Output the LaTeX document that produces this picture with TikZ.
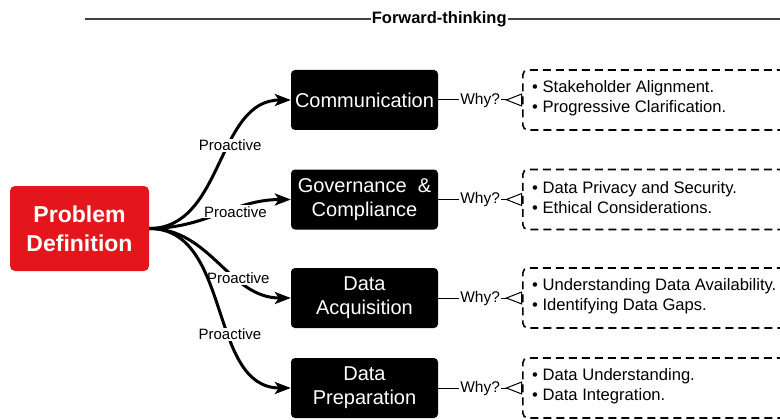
\documentclass[tikz,border=0pt]{standalone}
\usepackage{fontspec}
\setmainfont{Liberation Sans}
\usetikzlibrary{arrows.meta}
\definecolor{pdred}{HTML}{E5161B}
\definecolor{linegray}{HTML}{40404A}
\begin{document}
\begin{tikzpicture}[x=1pt,y=-1pt,
  rootbox/.style={fill=pdred, text=white, rounded corners=5pt, minimum width=139pt, minimum height=85pt, inner sep=0pt, font=\fontsize{23}{29}\selectfont\bfseries, align=center},
  stagebox/.style={fill=black, text=white, rounded corners=4pt, minimum width=147pt, minimum height=60pt, inner sep=0pt, font=\fontsize{20}{24}\selectfont, align=center},
  reasonbox/.style={draw, dash pattern=on 8pt off 5pt, line width=1.6pt, rounded corners=5pt, minimum width=280pt, minimum height=60pt, anchor=west, inner sep=0pt},
  reasontext/.style={font=\fontsize{16.6}{20}\selectfont, align=left, anchor=west, inner sep=0pt},
  flow/.style={line width=3pt, -{Stealth[length=16pt,width=12pt,inset=4pt]}},
  flowlabel/.style={fill=white, inner sep=1pt, font=\fontsize{15}{18}\selectfont},
  whyline/.style={line width=1pt, -{Triangle[open,reversed,length=17pt,width=13pt]}},
  whylabel/.style={fill=white, inner sep=1pt, font=\fontsize{15.5}{18}\selectfont},
  headline/.style={line width=2pt, draw=linegray}
]
\clip (0,0) rectangle (780,420);
\fill[white] (0,0) rectangle (780,420);

% header
\coordinate (tl) at (85,19);
\coordinate (tr) at (781,19);
\draw[headline] (tl) -- node[pos=0.509, fill=white, inner sep=1pt, text=black, font=\fontsize{16.5}{20}\selectfont\bfseries]{Forward-thinking} (tr);

% root
\node[rootbox] (root) at (79.5,228.5) {Problem\\Definition};

% stages
\node[stagebox] (comm) at (364.5,100) {Communication};
\node[stagebox] (gov)  at (364.5,199.5) {Governance\ \ \&\\Compliance};
\node[stagebox] (acq)  at (364.5,298) {Data\\Acquisition};
\node[stagebox] (prep) at (364.5,388) {Data\\Preparation};

% reasons
\node[reasonbox] (rcomm) at (522,100) {};
\node[reasonbox] (rgov)  at (522,199.5) {};
\node[reasonbox] (racq)  at (522,298) {};
\node[reasonbox] (rprep) at (522,388) {};

\node[reasontext] (tcomm) at (532,98) {• Stakeholder Alignment.\\• Progressive Clarification.};
\node[reasontext] (tgov)  at (532,197.5) {• Data Privacy and Security.\\• Ethical Considerations.};
\node[reasontext] (tacq)  at (532,296) {• Understanding Data Availability.\\• Identifying Data Gaps.};
\node[reasontext] (tprep) at (532,386) {• Data Understanding.\\• Data Integration.};

% flows
\draw[flow] (root.east) to[out=0,in=180] node[flowlabel,pos=0.6]{Proactive} (comm.west);
\draw[flow] (root.east) to[out=0,in=180] node[flowlabel,pos=0.62,yshift=-3pt]{Proactive} (gov.west);
\draw[flow] (root.east) to[out=0,in=180] node[flowlabel,pos=0.65]{Proactive} (acq.west);
\draw[flow] (root.east) to[out=0,in=180] node[flowlabel,pos=0.61]{Proactive} (prep.west);

% why connectors
\draw[whyline] (comm.east) -- node[whylabel]{Why?} (rcomm.west);
\draw[whyline] (gov.east) -- node[whylabel]{Why?} (rgov.west);
\draw[whyline] (acq.east) -- node[whylabel]{Why?} (racq.west);
\draw[whyline] (prep.east) -- node[whylabel]{Why?} (rprep.west);
\end{tikzpicture}
\end{document}
